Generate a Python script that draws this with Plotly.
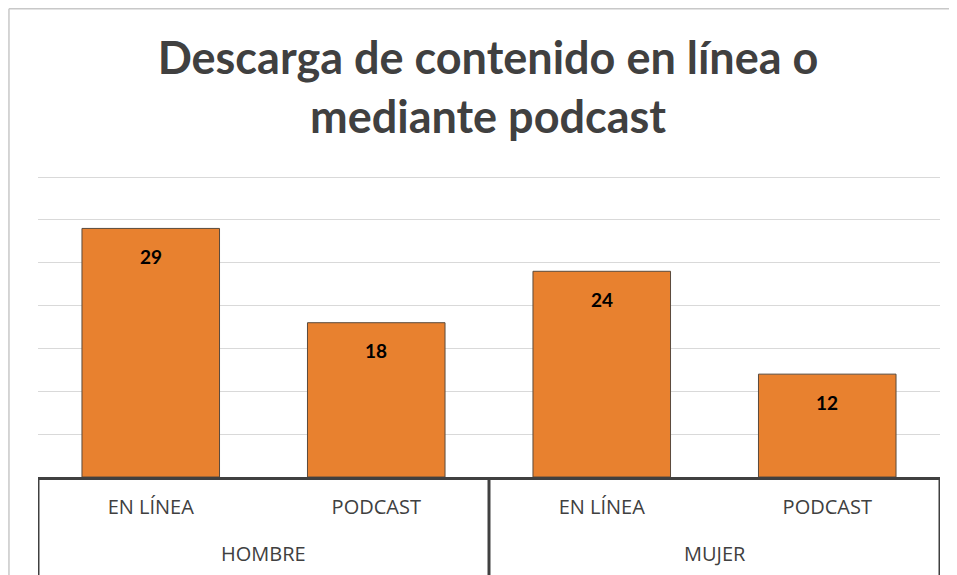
import plotly.graph_objects as go

# data
groups = ["HOMBRE", "HOMBRE", "MUJER", "MUJER"]
categories = ["EN LÍNEA", "PODCAST", "EN LÍNEA", "PODCAST"]
values = [29, 18, 24, 12]

positions = list(range(len(values)))
axis_col = "#404040"
label_font = dict(family="Open Sans, Lato, sans-serif", size=20, color=axis_col)

fig = go.Figure(go.Bar(
    x=positions,
    y=values,
    marker=dict(color="#E8812F", line=dict(color="#5a4a3c", width=1)),
    hoverinfo="skip",
))

# value labels just inside the top of each bar
for i, v in zip(positions, values):
    fig.add_annotation(
        x=i, y=v, yshift=-28, text=f"<b>{v}</b>", showarrow=False,
        font=dict(family="Lato, Open Sans, sans-serif", size=19, color="#000000"),
    )

# second level of the category axis: group names and dividers
group_names = list(dict.fromkeys(groups))
bounds = [-0.5]
for g in group_names:
    idx = [i for i, gg in zip(positions, groups) if gg == g]
    fig.add_annotation(
        x=sum(idx) / len(idx), y=-0.251, yref="paper", yanchor="middle",
        text=g, showarrow=False, font=label_font,
    )
    bounds.append(max(idx) + 0.5)
for b in bounds:
    fig.add_shape(
        type="line", x0=b, x1=b, xref="x", y0=0, y1=-0.4, yref="paper",
        line=dict(color=axis_col, width=3),
    )

# light chart frame, only left and top edges show (cropped like the reference)
frame = dict(color="#c8c8c8", width=1.5)
fig.add_shape(type="line", xref="paper", yref="paper",
              x0=-0.0322, x1=-0.0322, y0=-0.5, y1=1.545, line=frame, layer="below")
fig.add_shape(type="line", xref="paper", yref="paper",
              x0=-0.0322, x1=1.1, y0=1.545, y1=1.545, line=frame, layer="below")

fig.update_layout(
    width=957, height=575,
    margin=dict(l=30, r=25, t=166, b=106),
    paper_bgcolor="white", plot_bgcolor="white",
    bargap=0.39,
    showlegend=False,
    title=dict(
        text="<b>Descarga de contenido en línea o<br>mediante podcast</b>",
        x=0.5016, xanchor="center", y=0.885, yanchor="middle",
        font=dict(family="Lato, Open Sans, sans-serif", size=45, color=axis_col),
    ),
    xaxis=dict(
        range=[-0.5, len(values) - 0.5],
        tickvals=positions, ticktext=categories,
        showline=True, linecolor=axis_col, linewidth=3,
        showgrid=False, zeroline=False, ticks="",
        tickfont=label_font, ticklabelstandoff=10,
    ),
    yaxis=dict(
        range=[0, 35.35], tick0=0, dtick=5,
        showticklabels=False, zeroline=False,
        gridcolor="rgba(0,0,0,0.15)", gridwidth=1,
        layer="above traces",
    ),
)

fig.write_html("out.html")
